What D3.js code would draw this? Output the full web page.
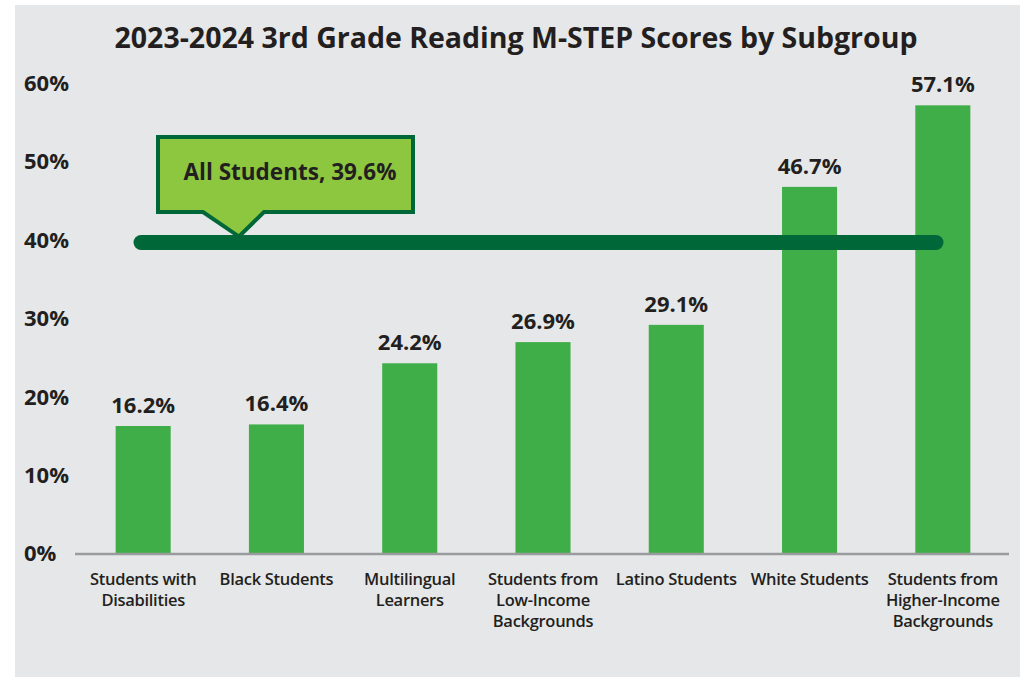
<!DOCTYPE html>
<html>
<head>
<meta charset="utf-8">
<script src="https://cdn.jsdelivr.net/npm/d3@7"></script>
<style>
  body { margin: 0; background: #fff; }
  text { font-family: "Open Sans", "Lato", sans-serif; fill: #231f20; }
</style>
</head>
<body>
<div id="chart"></div>
<script>
      var categories = [
        ["Students with", "Disabilities"],
        ["Black Students"],
        ["Multilingual", "Learners"],
        ["Students from", "Low-Income", "Backgrounds"],
        ["Latino Students"],
        ["White Students"],
        ["Students from", "Higher-Income", "Backgrounds"]
      ];
      var values = [16.2, 16.4, 24.2, 26.9, 29.1, 46.7, 57.1];
      var yTicks = [0, 10, 20, 30, 40, 50, 60];
      var allStudents = 39.6;
      var titleText = "2023-2024 3rd Grade Reading M-STEP Scores by Subgroup";

      var width = 1020, height = 677;

      var svg = d3.select("#chart").append("svg")
          .attr("width", width)
          .attr("height", height);

      // grey panel
      svg.append("rect")
          .attr("x", 15).attr("y", 5)
          .attr("width", width - 15).attr("height", height - 5)
          .attr("fill", "#e6e7e8");

      svg.append("text")
          .attr("x", 516).attr("y", 48)
          .attr("text-anchor", "middle")
          .style("font-size", "28.5px")
          .style("font-weight", "bold")
          .text(titleText);

      ////// scales //////
      var xScale = d3.scaleBand()
          .domain(d3.range(categories.length))
          .range([77, 1009])
          .paddingInner(0.587)
          .paddingOuter(0.29);

      var yScale = d3.scaleLinear()
          .domain([0, 60])
          .range([553, 82.6]);

      // y tick labels (left aligned)
      svg.append("g")
          .selectAll("text")
          .data(yTicks)
          .enter()
          .append("text")
          .attr("x", 24)
          .attr("y", function(d) { return yScale(d); })
          .attr("dy", "0.38em")
          .style("font-size", "22px")
          .style("font-weight", "bold")
          .text(function(d) { return d + "%"; });

      // bars
      svg.append("g")
          .selectAll("rect")
          .data(values)
          .enter()
          .append("rect")
          .attr("x", function(d, i) { return xScale(i); })
          .attr("y", function(d) { return yScale(d); })
          .attr("width", xScale.bandwidth())
          .attr("height", function(d) { return yScale(0) - yScale(d); })
          .attr("fill", "#3fae49");

      // baseline
      svg.append("line")
          .attr("x1", 75).attr("x2", 1009)
          .attr("y1", yScale(0) + 1).attr("y2", yScale(0) + 1)
          .attr("stroke", "#9a9b9d")
          .attr("stroke-width", 2.5);

      // value labels
      svg.append("g")
          .selectAll("text")
          .data(values)
          .enter()
          .append("text")
          .attr("x", function(d, i) { return xScale(i) + xScale.bandwidth() / 2; })
          .attr("y", function(d) { return yScale(d) - 13; })
          .attr("text-anchor", "middle")
          .style("font-size", "22px")
          .style("font-weight", "bold")
          .text(function(d) { return d.toFixed(1) + "%"; });

      // category labels
      var catG = svg.append("g")
          .selectAll("text")
          .data(categories)
          .enter()
          .append("text")
          .attr("x", function(d, i) { return xScale(i) + xScale.bandwidth() / 2; })
          .attr("y", 585)
          .attr("text-anchor", "middle")
          .style("font-size", "16.5px")
          .style("font-weight", "600")
          .style("letter-spacing", "-0.3px");

      catG.selectAll("tspan")
          .data(function(d) { return d; })
          .enter()
          .append("tspan")
          .attr("x", function() { return d3.select(this.parentNode).attr("x"); })
          .attr("dy", function(d, i) { return i === 0 ? 0 : 21; })
          .text(function(d) { return d; });

      // all students line
      var lineY = yScale(allStudents);
      svg.append("line")
          .attr("x1", 141).attr("x2", 936)
          .attr("y1", lineY).attr("y2", lineY)
          .attr("stroke", "#006838")
          .attr("stroke-width", 15)
          .attr("stroke-linecap", "round");

      // callout box with pointer
      var bx0 = 158, bx1 = 413, by0 = 137, by1 = 212;
      var callout = d3.path();
      callout.moveTo(bx0, by0);
      callout.lineTo(bx1, by0);
      callout.lineTo(bx1, by1);
      callout.lineTo(264, by1);
      callout.lineTo(239, lineY - 6);
      callout.lineTo(203, by1);
      callout.lineTo(bx0, by1);
      callout.closePath();

      svg.append("path")
          .attr("d", callout.toString())
          .attr("fill", "#8dc63f")
          .attr("stroke", "#006838")
          .attr("stroke-width", 4)
          .attr("stroke-linejoin", "miter");

      svg.append("text")
          .attr("x", 290).attr("y", 180)
          .attr("text-anchor", "middle")
          .style("font-size", "22.5px")
          .style("font-weight", "bold")
          .text("All Students, " + allStudents.toFixed(1) + "%");
</script>
</body>
</html>
